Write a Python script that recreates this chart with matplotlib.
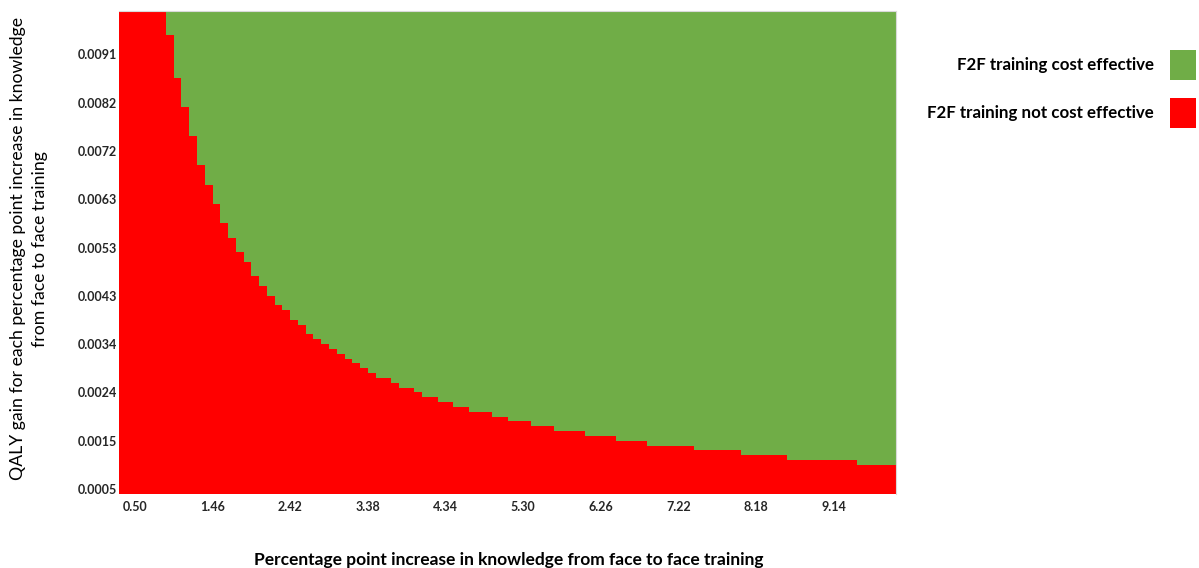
import numpy as np
import matplotlib
matplotlib.use("Agg")
import matplotlib.pyplot as plt
from matplotlib.colors import ListedColormap
from matplotlib.patches import Rectangle

GREEN = "#70AD47"
RED = "#FF0000"
FONT = "Lato"

# grid of 100 knowledge-gain columns x 100 QALY-gain rows
n_cols, n_rows = 100, 100
x_ticklabels = ["0.50", "1.46", "2.42", "3.38", "4.34",
                "5.30", "6.26", "7.22", "8.18", "9.14"]
y_ticklabels = ["0.0005", "0.0015", "0.0024", "0.0034", "0.0043",
                "0.0053", "0.0063", "0.0072", "0.0082", "0.0091"]

# rows (counted from the bottom) where F2F training is NOT cost effective, per column
not_ce_rows = [100, 100, 100, 100, 100, 100, 95, 86, 80, 74,
               68, 64, 60, 56, 53, 50, 48, 45, 43, 41,
               39, 38, 36, 35, 33, 32, 31, 30, 29, 28,
               27, 26, 25, 24, 24, 23, 22, 22, 21, 20,
               20, 19, 19, 18, 18, 17, 17, 17, 16, 16,
               15, 15, 15, 14, 14, 14, 13, 13, 13, 13,
               12, 12, 12, 12, 11, 11, 11, 11, 10, 10,
               10, 10, 10, 10, 9, 9, 9, 9, 9, 9,
               8, 8, 8, 8, 8, 8, 7, 7, 7, 7,
               7, 7, 7, 7, 7, 6, 6, 6, 6, 6]

legend_labels = ["F2F training cost effective", "F2F training not cost effective"]

cost_effective = (np.arange(n_rows)[:, None] >= np.array(not_ce_rows)[None, :]).astype(int)

fig = plt.figure(figsize=(11.99, 5.68), dpi=100)
ax = fig.add_axes([0.0995, 0.1303, 0.6478, 0.8509])

ax.pcolormesh(np.arange(n_cols + 1) - 0.5, np.arange(n_rows + 1) - 0.5, cost_effective,
              cmap=ListedColormap([RED, GREEN]), vmin=0, vmax=1,
              shading="flat", antialiased=False, edgecolors="none")
ax.set_xlim(-0.5, n_cols - 0.5)
ax.set_ylim(-0.5, n_rows - 0.5)

ax.set_xticks(np.arange(len(x_ticklabels)) * 10 + 1.5, x_ticklabels)
ax.set_yticks(np.arange(len(y_ticklabels)) * 10 + 0.5, y_ticklabels)
ax.tick_params(axis="both", length=0, labelsize=9)
ax.tick_params(axis="x", pad=5)
ax.tick_params(axis="y", pad=1.5)
for lab in ax.get_xticklabels() + ax.get_yticklabels():
    lab.set_fontfamily(FONT)
    lab.set_fontweight("bold")
    lab.set_color("#262626")

for side in ("left", "bottom"):
    ax.spines[side].set_visible(False)
for side in ("top", "right"):
    ax.spines[side].set_color("#D9D9D9")
    ax.spines[side].set_linewidth(0.8)

fig.text(508.5 / 1199, 1 - 560 / 568,
         "Percentage point increase in knowledge from face to face training",
         ha="center", va="center", fontsize=12.5, fontweight="bold", family=FONT)
fig.text(29 / 1199, 1 - 249 / 568,
         "QALY gain for each percentage point increase in knowledge\nfrom face to face training",
         ha="center", va="center", rotation=90, fontsize=12.7, family=FONT,
         linespacing=1.4, multialignment="center")

# legend: labels right-aligned next to coloured squares
for i, (label, colour) in enumerate(zip(legend_labels, [GREEN, RED])):
    yc = 1 - (65 + 48.3 * i) / 568
    fig.text(1154 / 1199, yc, label, ha="right", va="center",
             fontsize=12.2, fontweight="bold", family=FONT)
    fig.add_artist(Rectangle((1170 / 1199, yc - 15 / 568), 26 / 1199, 30 / 568,
                             transform=fig.transFigure, facecolor=colour,
                             edgecolor="none"))

fig.savefig("out.png", dpi=100)
